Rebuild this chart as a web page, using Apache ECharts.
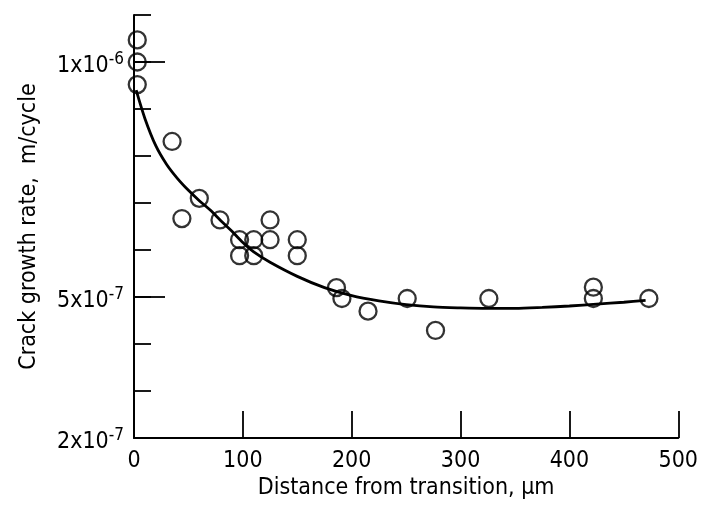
<!DOCTYPE html>
<html>
<head>
<meta charset="utf-8">
<script src="https://cdn.jsdelivr.net/npm/echarts@6/dist/echarts.min.js"></script>
<style>
html,body{margin:0;padding:0;background:#fff;}
#chart{width:701px;height:505px;}
</style>
</head>
<body>
<div id="chart"></div>
<script>
// Measured points: distance (µm) and crack growth rate in units of 1e-7 m/cycle
const pointDistance = [3, 3, 3, 35, 44, 60, 79, 97, 97, 110, 110, 125, 125, 150, 150, 186, 191, 215, 251, 277, 326, 422, 422, 473];
const pointRate     = [10.47, 10.0, 9.52, 8.31, 6.67, 7.10, 6.64, 6.22, 5.88, 6.22, 5.88, 6.64, 6.22, 6.22, 5.88, 5.20, 4.97, 4.70, 4.97, 4.29, 4.97, 5.21, 4.97, 4.97];

// Fitted curve
const curveDistance = [2, 10, 20, 30, 40, 50, 60, 70, 80, 90, 100, 110, 125, 150, 175, 200, 225, 250, 275, 300, 325, 350, 375, 400, 425, 450, 470];
const curveRate     = [9.40, 8.80, 8.22, 7.82, 7.52, 7.27, 7.05, 6.85, 6.62, 6.40, 6.16, 5.96, 5.74, 5.44, 5.20, 5.03, 4.92, 4.84, 4.79, 4.77, 4.76, 4.76, 4.78, 4.81, 4.85, 4.89, 4.93];

// Axis labelling
const yLabelValues   = [2, 5, 10];
const yLabelMantissa = ['2x10', '5x10', '1x10'];
const yLabelExponent = ['-7', '-7', '-6'];
const yLongTicks     = [5, 10];

const FONT = "'Liberation Sans Narrow', 'DejaVu Sans Condensed', 'DejaVu Sans', sans-serif";
const INK = '#000';

const chart = echarts.init(document.getElementById('chart'), null, {renderer: 'canvas'});

const scatterData = pointDistance.map((d, i) => [d, pointRate[i]]);
const curveData = curveDistance.map((d, i) => [d, curveRate[i]]);

chart.setOption({
  backgroundColor: '#fff',
  animation: false,
  grid: {left: 134, right: 22, top: 15, bottom: 62, containLabel: false},
  xAxis: {
    type: 'value', min: 0, max: 500, interval: 100,
    name: 'Distance from transition, µm',
    nameLocation: 'middle', nameGap: 37,
    nameTextStyle: {fontFamily: FONT, fontSize: 23, color: INK},
    axisLine: {show: true, lineStyle: {color: INK, width: 2}},
    axisTick: {show: true, inside: true, length: 27, lineStyle: {color: INK, width: 1.8}},
    axisLabel: {fontFamily: FONT, fontSize: 23, color: INK, margin: 11},
    splitLine: {show: false}
  },
  yAxis: [
    {
      type: 'value', min: 2, max: 11, interval: 1,
      name: 'Crack growth rate,  m/cycle',
      nameLocation: 'middle', nameGap: 93,
      nameTextStyle: {fontFamily: FONT, fontSize: 23, color: INK},
      axisLine: {show: true, lineStyle: {color: INK, width: 2}},
      axisTick: {show: true, inside: true, length: 17, lineStyle: {color: INK, width: 1.8}},
      axisLabel: {
        customValues: yLabelValues,
        margin: 10,
        padding: [8, 0, 0, 0],
        formatter: function (v) {
          const i = yLabelValues.findIndex(x => Math.abs(x - v) < 1e-6);
          if (i < 0) return '';
          return '{m|' + yLabelMantissa[i] + '}{e|' + yLabelExponent[i] + '}';
        },
        rich: {
          m: {fontFamily: FONT, fontSize: 23, color: INK},
          e: {fontFamily: FONT, fontSize: 17, color: INK, padding: [0, 0, 13, 0]}
        }
      },
      splitLine: {show: false}
    },
    {
      type: 'value', min: 2, max: 11, position: 'left',
      axisLine: {show: false},
      axisTick: {show: true, inside: true, length: 31, customValues: yLongTicks, lineStyle: {color: INK, width: 1.8}},
      axisLabel: {show: false},
      splitLine: {show: false}
    }
  ],
  series: [
    {
      type: 'line', data: curveData, smooth: 0.3, showSymbol: false,
      lineStyle: {color: INK, width: 2.8}, yAxisIndex: 0, z: 2
    },
    {
      type: 'scatter', data: scatterData, symbol: 'circle', symbolSize: 17,
      itemStyle: {color: 'rgba(255,255,255,0)', borderColor: INK, borderWidth: 2.3},
      yAxisIndex: 0, z: 3
    }
  ]
});
</script>
</body>
</html>
